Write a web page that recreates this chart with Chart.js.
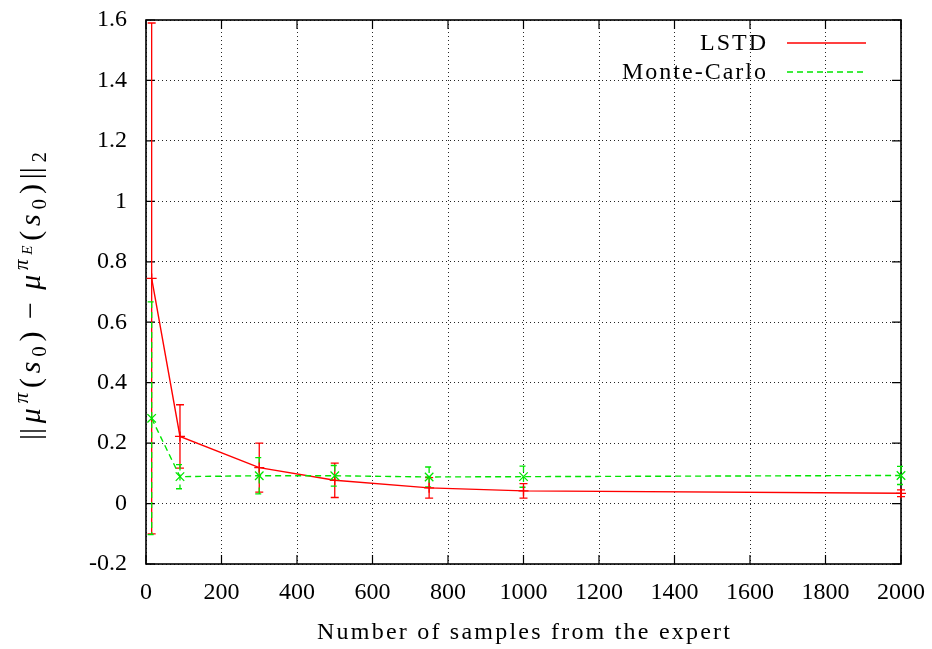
<!DOCTYPE html>
<html>
<head>
<meta charset="utf-8">
<script src="https://cdn.jsdelivr.net/npm/chart.js@4.4.1/dist/chart.umd.min.js"></script>
<style>
  html, body { margin: 0; padding: 0; background: #fff; }
  #wrap { width: 932px; height: 649px; }
</style>
</head>
<body>
<div id="wrap"><canvas id="errChart" width="932" height="649"></canvas></div>
<script>
// values
var xSamples = [15, 90, 300, 500, 750, 1000, 2000];
var lstdMean = [0.745, 0.222, 0.119, 0.077, 0.052, 0.042, 0.034];
var lstdErr  = [0.845, 0.105, 0.081, 0.057, 0.034, 0.024, 0.011];
var mcMean   = [0.282, 0.089, 0.092, 0.092, 0.088, 0.089, 0.093];
var mcErr    = [0.385, 0.040, 0.060, 0.034, 0.033, 0.035, 0.030];

var xTickValues = [0, 200, 400, 600, 800, 1000, 1200, 1400, 1600, 1800, 2000];
var xTickLabels = ["0", "200", "400", "600", "800", "1000", "1200", "1400", "1600", "1800", "2000"];
var yTickValues = [-0.2, 0, 0.2, 0.4, 0.6, 0.8, 1, 1.2, 1.4, 1.6];
var yTickLabels = ["-0.2", "0", "0.2", "0.4", "0.6", "0.8", "1", "1.2", "1.4", "1.6"];

var seriesNames = ["LSTD", "Monte-Carlo"];
var xTitle = "Number of samples from the expert";

var RED = "#ff0000";
var GREEN = "#00e600";
var DASH = [6, 4];
var SERIF = "'Liberation Serif', 'DejaVu Serif', serif";

function toPoints(xs, ys) {
  return xs.map(function(x, i) { return {x: x, y: ys[i]}; });
}

// frame, inward ticks and error bars, drawn over the grid
var framePlugin = {
  id: "frame",
  beforeDatasetsDraw: function(chart) {
    var ctx = chart.ctx, a = chart.chartArea;
    var xs = chart.scales.x, ys = chart.scales.y;
    ctx.save();
    ctx.strokeStyle = "#000";
    ctx.lineWidth = 1.6;
    ctx.strokeRect(a.left, a.top, a.right - a.left, a.bottom - a.top);
    ctx.lineWidth = 1.2;
    ctx.beginPath();
    xTickValues.forEach(function(v) {
      var px = xs.getPixelForValue(v);
      ctx.moveTo(px, a.bottom); ctx.lineTo(px, a.bottom - 9);
      ctx.moveTo(px, a.top); ctx.lineTo(px, a.top + 9);
    });
    yTickValues.forEach(function(v) {
      var py = ys.getPixelForValue(v);
      ctx.moveTo(a.left, py); ctx.lineTo(a.left + 9, py);
      ctx.moveTo(a.right, py); ctx.lineTo(a.right - 9, py);
    });
    ctx.stroke();

    function bars(means, errs, color, dash) {
      ctx.strokeStyle = color;
      ctx.lineWidth = 1.3;
      ctx.setLineDash(dash);
      ctx.beginPath();
      xSamples.forEach(function(x, i) {
        var px = xs.getPixelForValue(x);
        var t = ys.getPixelForValue(means[i] + errs[i]);
        var b = ys.getPixelForValue(means[i] - errs[i]);
        ctx.moveTo(px, t); ctx.lineTo(px, b);
        ctx.moveTo(px - 4, t); ctx.lineTo(px + 4, t);
        ctx.moveTo(px - 4, b); ctx.lineTo(px + 4, b);
      });
      ctx.stroke();
      ctx.setLineDash([]);
    }
    bars(lstdMean, lstdErr, RED, []);
    bars(mcMean, mcErr, GREEN, DASH);
    ctx.restore();
  },
  afterDraw: function(chart) {
    var ctx = chart.ctx, a = chart.chartArea;
    ctx.save();
    ctx.fillStyle = "#000";

    // legend
    ctx.font = "24px " + SERIF;
    ctx.letterSpacing = "2px";
    ctx.textAlign = "right";
    ctx.textBaseline = "middle";
    ctx.fillText(seriesNames[0], 768, 44);
    ctx.fillText(seriesNames[1], 768, 73);
    ctx.letterSpacing = "0px";
    ctx.lineWidth = 1.4;
    ctx.strokeStyle = RED;
    ctx.beginPath(); ctx.moveTo(787, 43); ctx.lineTo(866, 43); ctx.stroke();
    ctx.strokeStyle = GREEN;
    ctx.setLineDash(DASH);
    ctx.beginPath(); ctx.moveTo(787, 72); ctx.lineTo(866, 72); ctx.stroke();
    ctx.setLineDash([]);

    // x title, stretched to the reference width
    ctx.textAlign = "left";
    ctx.textBaseline = "alphabetic";
    ctx.font = "24px " + SERIF;
    var w = ctx.measureText(xTitle).width;
    var sp = (413 - w) / (xTitle.length - 1);
    ctx.letterSpacing = sp + "px";
    ctx.fillText(xTitle, 317, 639);
    ctx.letterSpacing = "0px";

    // y title: ||mu^pi(s_0) - mu^{pi_E}(s_0)||_2
    var R = SERIF, I = "italic ";
    var parts = [
      ["||", "", 30, 0], ["\u03bc", I, 30, 0], ["\u03c0", I, 21, -12],
      ["(", "", 30, 0], ["s", I, 30, 0], ["0", "", 21, 6], [")", "", 30, 0],
      [" \u2212 ", "", 30, 0],
      ["\u03bc", I, 30, 0], ["\u03c0", I, 21, -12], ["E", I, 15, -8],
      ["(", "", 30, 0], ["s", I, 30, 0], ["0", "", 21, 6], [")", "", 30, 0],
      ["||", "", 30, 0], ["2", "", 21, 6]
    ];
    var total = 0;
    parts.forEach(function(p) {
      ctx.font = p[1] + p[2] + "px " + R;
      p.push(ctx.measureText(p[0]).width);
      total += p[4];
    });
    var gap = Math.max(0, (288 - total) / (parts.length - 1));
    total += gap * (parts.length - 1);
    ctx.translate(40, (a.top + a.bottom) / 2 + 4);
    ctx.rotate(-Math.PI / 2);
    var cx = -total / 2;
    parts.forEach(function(p) {
      ctx.font = p[1] + p[2] + "px " + R;
      ctx.fillText(p[0], cx, p[3]);
      cx += p[4] + gap;
    });
    ctx.restore();
  }
};

var ctx = document.getElementById("errChart").getContext("2d");
var myChart = new Chart(ctx, {
  type: "line",
  plugins: [framePlugin],
  data: {
    datasets: [{
      label: seriesNames[0],
      data: toPoints(xSamples, lstdMean),
      borderColor: RED,
      backgroundColor: RED,
      borderWidth: 1.4,
      pointStyle: "cross",
      pointRadius: 5,
      pointBorderWidth: 1.3,
      pointHoverRadius: 5,
      tension: 0,
      clip: false,
      order: 2
    }, {
      label: seriesNames[1],
      data: toPoints(xSamples, mcMean),
      borderColor: GREEN,
      backgroundColor: GREEN,
      borderWidth: 1.4,
      borderDash: DASH,
      pointStyle: "crossRot",
      pointRadius: 6,
      pointBorderWidth: 1.3,
      pointHoverRadius: 6,
      tension: 0,
      clip: false,
      order: 1
    }]
  },
  options: {
    responsive: false,
    animation: false,
    events: [],
    layout: { padding: { top: 20, right: 31, left: 0, bottom: 0 } },
    plugins: {
      legend: { display: false },
      tooltip: { enabled: false }
    },
    scales: {
      x: {
        type: "linear",
        min: 0,
        max: 2000,
        afterBuildTicks: function(scale) {
          scale.ticks = xTickValues.map(function(v) { return {value: v}; });
        },
        afterFit: function(scale) {
          scale.height = 85;
          scale.paddingLeft = 0; scale.paddingRight = 0;
        },
        ticks: {
          color: "#000",
          padding: 14,
          maxRotation: 0,
          autoSkip: false,
          font: { family: SERIF, size: 24 },
          callback: function(v, i) { return xTickLabels[i]; }
        },
        grid: { color: "rgba(0,0,0,0.85)", lineWidth: 1, drawTicks: false },
        border: { display: false, dash: [1, 3] }
      },
      y: {
        type: "linear",
        min: -0.2,
        max: 1.6,
        afterBuildTicks: function(scale) {
          scale.ticks = yTickValues.map(function(v) { return {value: v}; });
        },
        afterFit: function(scale) {
          scale.width = 146;
          scale.paddingTop = 0; scale.paddingBottom = 0;
        },
        ticks: {
          color: "#000",
          padding: 19,
          autoSkip: false,
          font: { family: SERIF, size: 24 },
          callback: function(v, i) { return yTickLabels[i]; }
        },
        grid: { color: "rgba(0,0,0,0.85)", lineWidth: 1, drawTicks: false },
        border: { display: false, dash: [1, 3] }
      }
    }
  }
});
</script>
</body>
</html>
